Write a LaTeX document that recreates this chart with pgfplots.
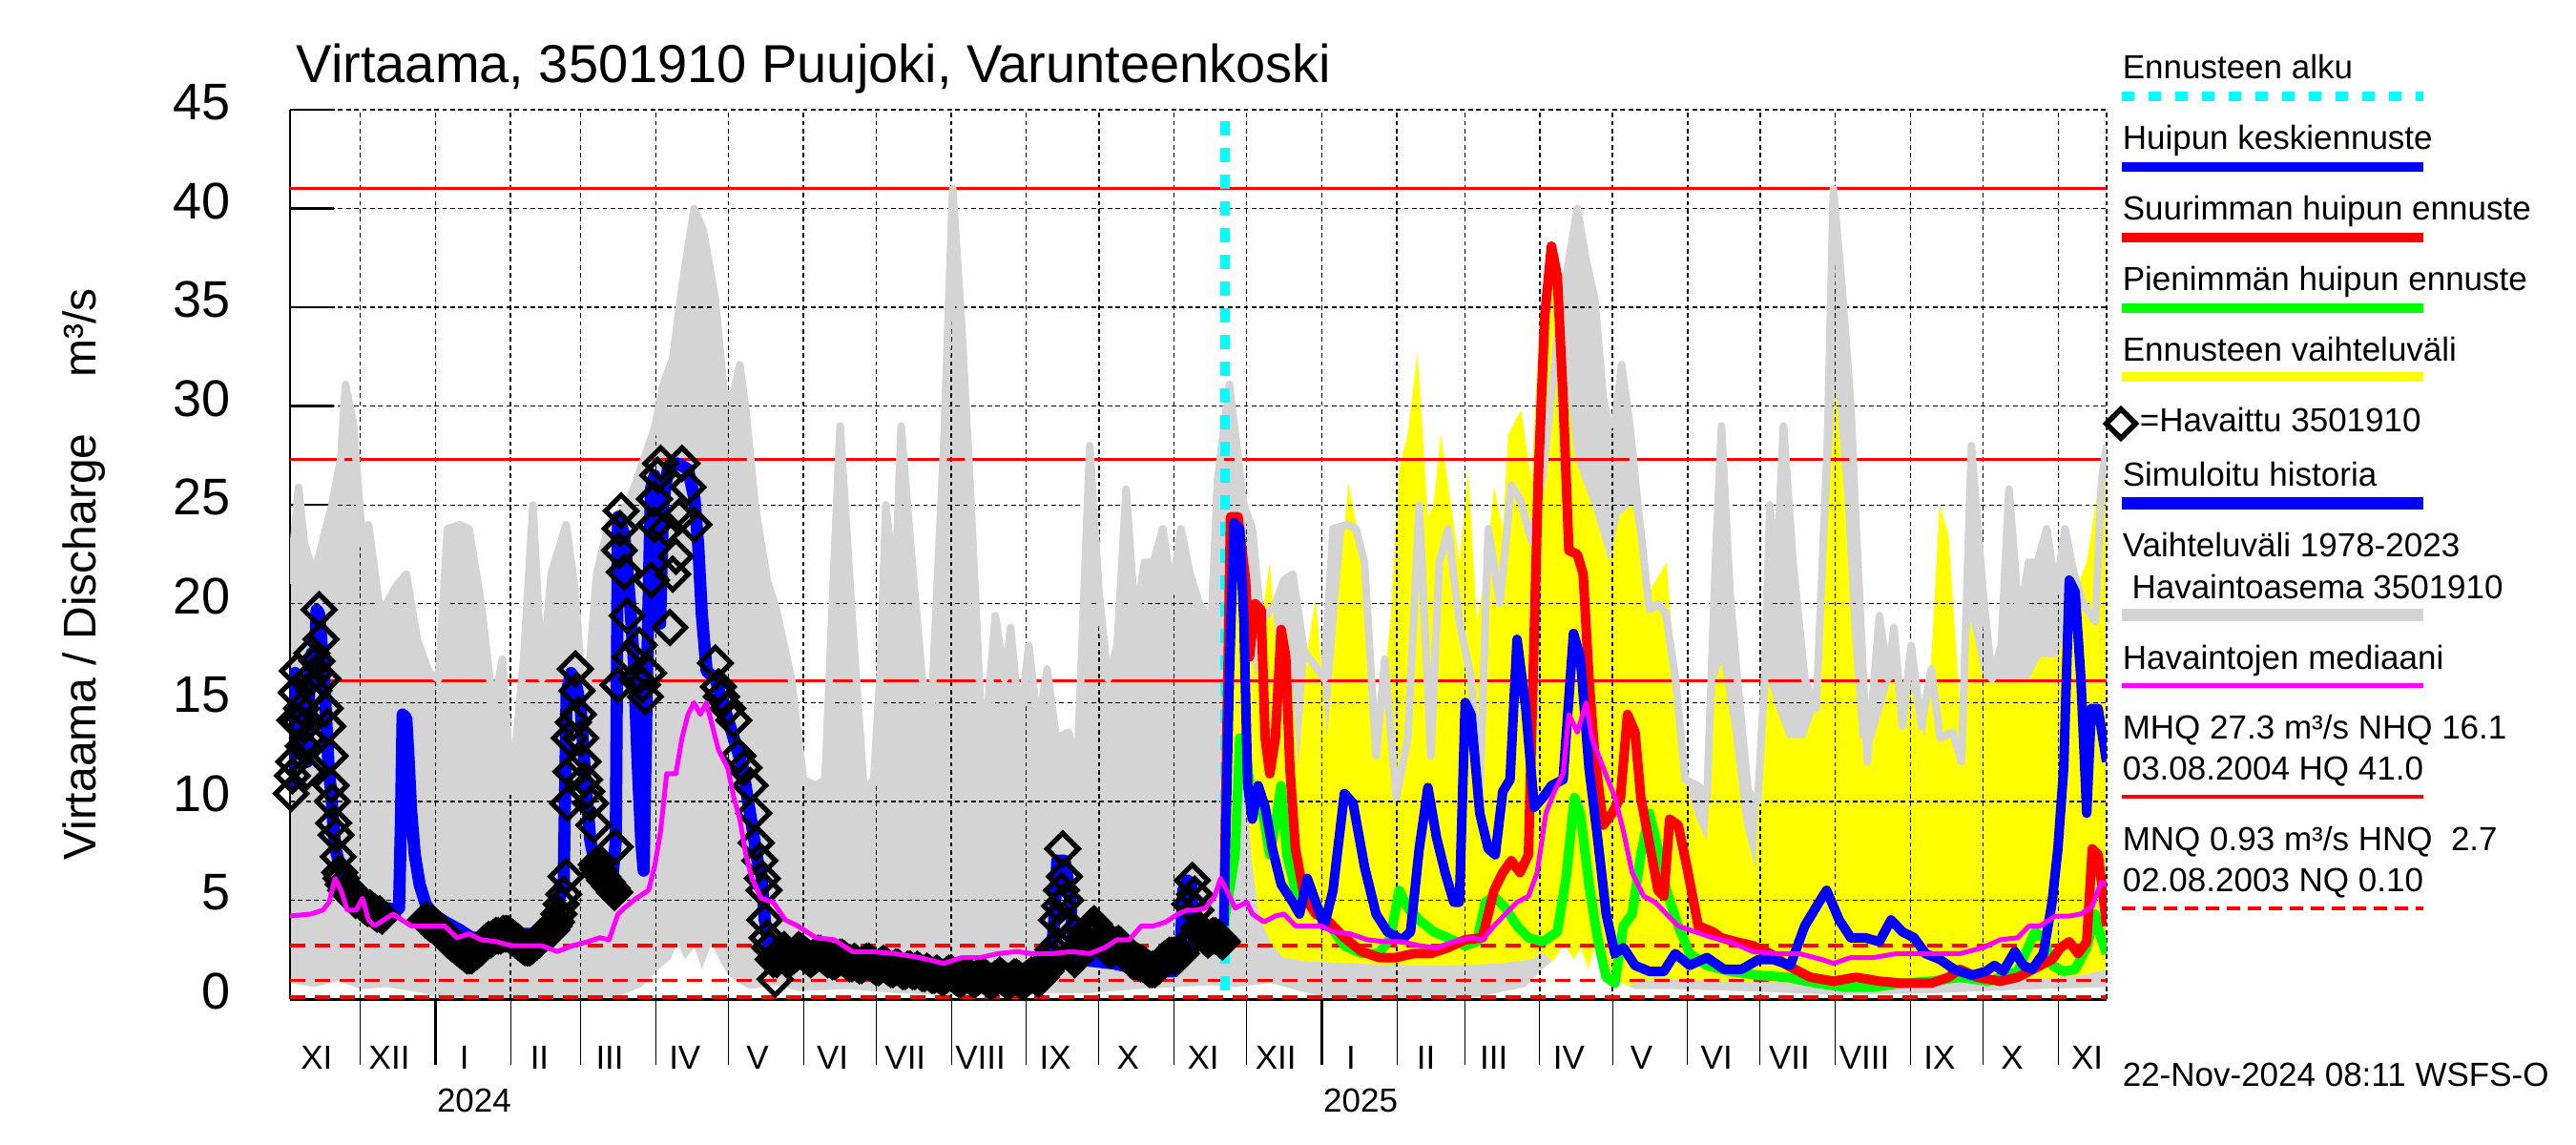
\documentclass[border=0pt]{standalone}
\usepackage{fontspec}
\setmainfont{Liberation Sans}
\usepackage{pgfplots}
\usepackage{pgfplotstable}
\pgfplotsset{compat=1.18}

\definecolor{grayc}{RGB}{212,212,212}
\definecolor{yel}{RGB}{255,255,0}
\definecolor{bl}{RGB}{0,0,255}
\definecolor{rd}{RGB}{255,0,0}
\definecolor{gr}{RGB}{0,255,0}
\definecolor{mg}{RGB}{255,0,255}
\definecolor{cy}{RGB}{0,255,255}

\newcommand\lf{\fontsize{8.75pt}{10pt}\selectfont}
\tikzset{gridline/.style={black, line width=0.35pt, dash pattern=on 1.2pt off 0.9pt}}

% x = days from 1 Jan 2024
\pgfplotstableread{
x y
-60 21
-56.5 25.9
-54 23
-50 21.5
-42.7 25
-39 27.4
-37.1 31.1
-33.9 29.2
-30 23
-27.6 24
-22.6 19.4
-16.3 20.9
-12 21.5
-7.5 18.2
-2.5 16.5
1.3 16.2
5 23.8
10 24
13.9 23.8
18.9 20
23.9 14.7
27.7 17.2
31.5 10.5
36.5 17.3
40.3 25
44 16.2
47.8 21.5
54 24
57.8 20.6
61.6 13.8
66.6 21.5
71.7 24.1
79.2 25
83 26.2
90.5 28.9
94.3 31.2
98 32.4
101.8 36
106.8 40
110.6 38.9
115.6 35.4
119.4 30.4
123.2 30.7
125.7 32.1
128.2 29.8
132 25
137 21.2
140.8 19.7
147 16.2
152 11.1
157 10.8
160.9 11.1
164.6 22
167.1 29
172.2 19.1
177 10.5
181 11.1
183.5 16.2
186 25
189.8 20.6
192.3 29
196 23.3
201 16.2
204.8 14.7
209.9 28
213.6 41
217.4 33.9
221.2 25
226.2 12
231.2 19.4
235 16.2
237.5 18.8
241.3 13.8
245 17.9
248.8 13.8
252.6 16.7
256.3 13.2
261.4 13.5
265.1 12
270.2 28
274 20.6
277.7 16.2
281.5 17.9
285.2 25.8
289 19.1
292.8 22.1
296.5 22.1
300.3 23.8
304.1 20.6
307.8 23.8
311.6 21.5
315.4 20
320.4 19.1
322.9 26.2
327.8 31.1
333.8 25
337.3 23.8
340.9 19.1
346.8 20
350.4 21.2
354 21.5
358.7 17.6
363.5 16.8
367 16.2
370.6 23.8
376.5 24
380.1 23.8
383.6 22.1
388.4 12.3
392 17.2
396.7 10.2
401.5 13.2
406.2 25
411 12.3
414.5 22.1
418.1 23.8
422.8 19.1
427.6 16.2
431.2 10.2
434.7 23.8
439.5 20
444.2 26
447.8 25.3
452.5 23.2
457.3 26.5
464.4 34.8
468 37.4
471.5 40
475.1 37.4
478.7 35.4
482.2 30.4
484.6 29
487 29.2
489.8 32.1
493 29.2
496.5 25
501.2 19.7
505 20
508 19.5
512 16.2
516 11.1
521.4 10.8
525 10.2
528.5 22.1
531 29
534.5 20.6
538 15.6
542 10.5
546 10
548.7 16
551 25
553.5 20.9
556.6 29
560.6 22
565.4 16.2
570.1 14.7
574.7 28
577.2 41
580.8 36
584.4 30
586.2 25
591.2 12
596.2 19.4
599.8 16.2
602.2 18.8
605.7 13.8
609.3 17.9
613.5 13.8
617.6 16.7
621.3 13.2
626.4 13.5
630.1 12
634.2 28
639 20.6
642.7 16.2
646.5 17.9
649.7 25.8
654 19.1
657.8 22.1
661.5 22.1
665.3 23.8
669.1 20.6
672.8 23.8
676.6 21.5
680.4 20
685.4 19.1
687.9 26.2
690 28
}\gmax

\pgfplotstableread{
x y
-60 0.8
-50 0.6
-40 0.9
-31 0.5
-20 0.6
-5 0.3
0 0.1
20 0.05
60 0.05
75 0.1
85 0.6
92 1.5
97 2.0
100 2.8
103 2.0
107 2.6
110 1.5
114 2.8
118 1.8
121 1.2
125 0.8
130 0.5
140 0.7
150 0.4
170 0.5
190 0.3
210 0.2
230 0.2
250 0.3
270 0.3
290 0.5
305 0.6
320 0.7
330 0.6
345 0.8
366 0.1
400 0.05
430 0.1
450 0.6
457 1.5
462 2.0
466 2.8
470 2.0
473 2.6
476 1.5
479 2.8
483 1.8
486 1.2
490 0.8
495 0.5
510 0.5
540 0.4
580 0.2
620 0.3
660 0.5
690 0.6
}\gmin

\pgfplotstableread{
x y
326 3.5
327.5 20
329 24.6
331.4 24.5
333 23.5
335 19.5
338.5 16.2
341 19
344.5 22.1
348 16.2
351.6 18.7
353 17
356.3 11.7
360 17.6
363.5 20.3
368.2 13.2
373 20.6
377 26.1
381.3 23.3
384.8 19.1
389.6 13.2
394.3 19.1
397.9 26.8
401.5 28.6
405.5 32.7
409.8 24.4
412.1 25
415.2 28.6
419.3 25
422.8 22.1
426.4 26.8
430 19.1
433.5 21.5
437.1 25.9
440.7 23.8
443 28.6
448.3 29.8
452.5 26.2
456.1 34.5
460.8 38.3
465.6 33
470.3 27.4
477.5 25
484.6 22.1
489 24.5
494.1 25
501.2 20.6
508.3 22.1
511.9 16.2
517.9 10.2
521 9
525 8
528.5 16
531 17
535 14
540 9
545 6.5
548.7 16.8
553.5 14.7
558.2 13.2
565.4 13.2
570 14.7
574 22
578 31
582 25
585 18
588 13.2
594 13.2
601 16.2
608 16.2
615 13.2
618 18
621 25
624.7 23.5
629.5 14.7
634 19.1
639 16.2
643.7 16.2
650.9 16.2
658 16.2
662.7 17.3
669.9 17.3
677 20.6
681.8 22.1
687.7 26.8
690 27.4
}\yup

\pgfplotstableread{
x y
326 3.0
330 8
334 12
337 7
340 4.2
345 2.8
350 2.1
360 1.9
380 1.8
400 1.7
420 1.7
440 1.8
452 2.0
458 2.3
464 1.5
470 0.9
478 0.6
484 0.4
490 0.6
500 0.9
510 1.0
530 0.9
560 0.8
590 0.8
620 0.8
640 0.9
660 1.0
680 1.2
690 1.5
}\ylo

\pgfplotstableread{
x y
325.5 3.7
327.8 16.2
329.7 24.1
332.1 23.8
333.8 19.1
335.4 10.8
337.3 9.1
339.7 10.8
342.6 9.7
345.6 7.6
349.2 5.8
354 4.9
356.8 4.3
360 6.1
363.5 4.9
367 3.7
370.6 5.5
375.3 10.4
378.9 9.9
383.6 6.7
388.4 4.3
393.1 3.4
399 3.0
402.6 3.4
406.2 7.6
409.8 10.7
413.3 8.2
416.9 6.4
420.5 4.9
422.8 4.9
425.2 15
427.6 14.4
431.2 9.4
434.7 7.6
437.6 7.3
440.7 10.5
443.7 11.1
446.6 18.2
450.2 14.7
453.7 9.7
457.3 10.2
460.8 10.8
465.6 11.1
469.9 18.5
472.7 17.3
476.3 11.7
479.8 8.2
483.4 4.3
487 2.3
490.5 2.6
495.3 1.7
501.2 1.4
507.2 1.4
511.9 2.3
517.9 1.7
525 2.1
532.1 1.5
539.2 1.5
546.4 2.0
552.3 2.0
559.4 1.7
565.4 3.7
571.3 4.9
574.4 5.5
579.6 4.0
584.4 3.1
590.3 3.1
596.2 2.9
601 4.0
605.7 3.4
610.5 3.1
615.2 2.3
621.2 2.0
627.1 1.5
634.2 1.2
640.2 1.4
643.7 1.7
647.3 1.4
652.1 2.4
655.6 1.7
659.2 1.5
663.9 2.3
667.5 4.9
669.9 7.6
672.3 11.7
674.6 21.2
677 20.6
679.4 16.2
681.8 9.4
683.7 14.7
686.5 14.7
690 12
}\fblue

\pgfplotstableread{
x y
325.5 3.7
328.3 24.4
331.4 24.4
334.5 21.2
336.1 17.3
338.5 20
340.9 19.7
342.6 13.2
344.5 11.4
346.8 13.2
349.2 18.7
351.1 17.3
352.8 11.7
355.1 7.6
358.7 5.2
363.5 4.3
368.2 4.0
375.3 3.1
382.5 2.4
389.6 2.1
396.7 2.1
403.8 2.3
411 2.3
418.1 2.6
425.2 3.0
432.3 3.1
437.1 5.5
440.7 6.4
444.2 7.0
447.8 6.4
451.3 7.3
453.2 16.2
455.4 26.5
458 34.5
460.8 38.1
463.2 36.6
465.6 30.4
468 22.7
471.5 22.5
473.9 21.5
476.3 16.2
478.7 12.3
482.2 8.8
485.8 9.4
489.3 10.2
492.2 14.4
495.3 13.5
497.7 10.2
501.2 7.9
504.8 5.5
507.2 5.2
509.6 9.1
513.1 8.8
516.7 6.7
521.4 3.7
527.4 3.4
530.9 3.1
536.9 2.9
544 2.7
551.1 2.3
558.2 1.7
567.7 1.1
577.2 0.9
586.7 1.1
596.2 0.9
605.7 0.8
617.6 0.8
624.7 1.1
629.5 1.5
636.6 1.1
646.1 0.9
653.3 1.1
662.7 1.7
667.5 2.0
671 2.6
674.6 2.9
678.2 2.3
681.8 2.9
684.1 7.6
686.5 7.3
688.9 4.9
690 3.7
}\fred

\pgfplotstableread{
x y
325.5 3.7
330.2 7.3
332.1 13.2
335 12.3
337.3 9.4
339.7 10.2
342.1 9.1
344.5 7.3
346.8 8.8
349.2 10.8
351.6 7.3
355.1 5.5
359.9 4.9
364.6 4.6
369.4 3.7
375.3 2.7
382.5 2.3
389.6 2.3
394.3 3.1
397.9 5.5
401.5 4.6
406.2 4.0
412.2 3.4
418.1 3.1
425.2 2.7
430 2.9
433.5 4.9
437.1 5.2
441.8 4.6
446.6 3.7
451.3 3.1
457.3 2.9
463.2 3.4
466.8 6.1
470.3 10.2
472.7 9.4
476.3 5.8
479.8 3.1
483.4 1.1
487 0.8
490.5 3.7
494.1 4.3
497.7 7.3
501.2 9.4
504.8 7.6
508.3 5.5
513.1 3.7
517.9 2.3
525 1.7
534.5 1.4
546.4 1.2
558.2 1.1
570.1 0.8
582 0.6
593.9 0.6
605.7 0.8
617.6 0.9
629.5 1.1
641.4 0.9
653.3 1.4
660.4 3.4
663.9 3.1
667.5 1.7
672.3 1.4
677 1.5
681.8 2.6
685.3 4.3
687.7 3.1
690 2.3
}\fgreen

\pgfplotstableread{
x y
-60.2 4.2
-51.4 4.3
-46.4 4.5
-43.9 4.9
-41.4 6.1
-38.9 5.5
-36.4 4.5
-32.6 4.5
-30.1 5.1
-27.6 4.0
-25.1 3.7
-21.3 4.0
-17.5 4.3
-13.8 4.0
-10 3.7
-6.2 3.7
-1.2 3.7
3.8 3.7
8.9 3.1
13.9 3.3
18.9 3.0
25.2 2.9
31.5 2.7
37.7 2.7
44 2.7
50.3 2.4
56.6 2.7
62.9 2.9
67.9 3.1
71.7 3.0
75.4 4.3
77.9 4.6
83 5.1
88 5.5
90.5 6.7
93 8.5
95.5 11.4
99.3 11.4
101.8 13.2
104.3 14.4
106.8 15
109.4 14.4
111.9 15
114.4 13.8
116.9 12.6
120.7 11.7
123.2 10.2
125.7 9.1
128.2 7.3
130.7 6.1
134.5 5.1
139.5 4.9
144.5 4.0
149.6 3.7
157.1 3.1
164.6 3.0
172.2 2.4
179.7 2.4
189.8 2.3
199.8 2.1
209.9 1.8
217.4 2.1
225 2.1
232.5 2.3
240 2.4
246.3 2.3
255.1 2.3
262.6 2.4
270.2 2.3
276.4 2.6
281.5 3.0
286.5 3.0
291.5 3.7
296.5 3.7
301.6 3.9
306.6 4.3
310.4 4.5
314.1 4.5
317.9 4.6
321.7 5.2
324.2 6.1
326.7 5.5
330.2 4.6
335 4.9
337.3 4.3
342.1 3.9
346.8 4.2
350.4 4.3
355.1 3.7
361.1 3.7
365.8 3.7
370.6 3.4
377.7 3.3
384.8 3.0
392 2.9
399.1 2.9
406.2 2.7
413.3 2.6
420.5 2.9
427.6 3.1
432.3 3.0
437.1 3.7
441.8 4.3
446.6 4.9
451.3 5.2
454.9 6.4
458.5 9.4
462 10.5
465.6 11.4
468 14.4
471.5 13.5
475.1 15
477.5 13.2
482.2 11.7
487 10.2
490.5 8.5
494.1 6.4
498.9 5.2
503.6 4.9
508.3 4.3
513.1 3.7
520.2 3.4
527.4 3.1
534.5 2.9
544 2.4
553.5 2.3
563 2.3
572.5 2.0
577.2 1.8
584.4 2.1
593.9 2.1
603.4 2.3
610.5 2.3
620 2.3
629.5 2.3
639 2.6
646.1 3.0
653.3 3.1
658 3.7
662.7 3.7
668.7 4.2
674.6 4.2
679.4 4.3
684.1 4.7
687.7 5.9
690 5.8
}\med

\pgfplotstableread{
x y
-60 10.5
-59 14.5
-58 16.5
-57 13.5
-56 15
-55 12.5
-54 14.5
-53 12
-52 16
-51 17.5
-50 16
-49 19.7
-48 19.5
-47 18
-46 16.5
-45 14
-44 11.5
-43 10.5
-42 8.5
-41 7.5
-40 7
-38.9 6.4
-36 5.8
-33 5.4
-30 5.1
-27 4.9
-24 4.7
-20 4.6
-16 4.5
-15 4.6
-14.2 9
-13.5 14.4
-12 14.2
-11 12
-10 9.5
-8.5 7.3
-6.5 5.8
-4 4.8
-1 4.3
4 3.9
10 3.5
15 3.1
20 3.1
30 3.3
40 3.3
46 3.7
50 4.5
53 6.0
54.2 15.5
56 16.5
58 16
60 14.7
62 11
64 8
66 6.8
70 6.2
73 6.0
74.5 8
75.4 24.4
78 23.5
80.4 20
82 17
83.5 12
85 8
86 6.5
87.2 15.3
89 25.8
90.5 26.5
91.8 20.5
92.8 19
94 25
96 26.8
100 27.1
104.3 26.8
107 25.3
108.5 23
110 19.5
112 16.6
115.6 16.2
119.4 14.7
123.2 13.2
126.9 11.7
130.7 8.8
133 7
134.5 6.4
136 4
137.5 2.8
139.5 2.4
150 2.3
170 2.0
190 1.6
210 1.2
230 1.0
245 1.1
254 1.3
255.5 4.0
256.8 7.0
259.8 7.0
261.8 5.5
263.5 2.5
266 2.0
280 1.8
295 1.4
305 1.4
307.5 2.0
308.8 5.5
310.5 6.0
312 5.8
313.2 3.0
315 2.8
320 2.9
326 3.0
}\simh

\pgfplotstableread{
x y
-59.5 10.4
-59 11.3
-58.5 12.0
-58 14.1
-57.5 15.5
-57 16.6
-56 14.0
-55.2 14.7
-54.5 12.8
-54 13.8
-53 11.5
-52.7 13.2
-52 16.2
-51 17.5
-50.2 15.6
-49.5 16.5
-48.9 17.1
-48 19.7
-47.2 18.2
-46.4 16.2
-45.5 14.7
-44.4 13.8
-43.4 12.3
-43 10.8
-42.5 10.0
-42 8.9
-41 8.3
-40.1 7.2
-39.5 6.4
-38.9 6.1
-38 5.8
-37 5.5
-36 5.6
-35 5.3
-34 5.2
-33 5.0
-32 5.1
-31 4.9
-30 4.8
-29 4.7
-28 4.6
-27 4.6
-26 4.5
-25 4.4
-24 4.3
-23 4.3
-22 4.2
-4 4.0
-3 3.9
-2 3.8
-1 3.8
0 3.7
1 3.5
2 3.4
3 3.3
4 3.2
5 3.0
6 2.9
7 2.8
8 2.7
9 2.6
10 2.5
11 2.4
12 2.3
13 2.2
14 2.2
15 2.2
16 2.3
17 2.4
18 2.5
19 2.6
20 2.8
21 2.9
22 3.0
23 3.0
24 3.1
25 3.2
26 3.2
27 3.2
28 3.3
29 3.3
30 3.3
31 3.2
32 3.1
33 3.0
34 2.9
35 2.8
36 2.7
37 2.6
38 2.6
39 2.6
40 2.7
41 2.8
42 2.9
43 3.0
44 3.2
45 3.3
46 3.4
47 3.4
48 3.5
49 3.7
50 3.9
51 4.3
52 4.8
53 5.3
54 6.2
54.6 9.9
55.3 13.2
56 11.5
57 14.0
57.8 16.7
58.5 15.6
59.1 14.4
60 13.2
61 12.0
61.6 11.1
62.5 10.5
64.1 9.9
65.4 8.8
66.5 6.8
67 6.6
68 6.4
69 6.2
70 6.0
71 5.9
72 5.7
73 5.6
74 5.4
74.2 7.7
75.4 15.9
76 22.7
76.2 23.8
76.7 24.7
78 21.6
79.2 19.4
80.4 17.3
83 16.2
84.2 17.9
85.5 15.9
86.7 15.3
88 16.5
89.2 21.2
90.5 24
90.5 25.3
91.8 26.5
93 27.1
95.5 23.8
96.8 18.8
98 21.5
99.3 22.4
100.6 24.4
101.8 27.1
104.3 25.9
106.8 24
115.6 17.0
116.9 15.8
118.1 15.3
120.7 14.7
123.2 14.1
125 12.3
127.4 11.7
130 10.8
131.5 9.4
132.5 7.9
134 7.0
135 6.1
135.7 5.5
136 4.0
137 3.1
138 2.6
139.5 2.0
140.3 1.0
141 2.0
142 2.2
143 2.4
144 2.5
145 2.3
146 2.2
147 2.1
148 2.2
149 2.3
150 2.5
151 2.4
152 2.3
153 2.2
154 2.1
155 2.0
156 2.1
157 2.2
158 2.3
159 2.3
160 2.2
161 2.1
162 2.0
163 2.0
164 1.9
165 1.9
166 2.0
167 2.1
168 2.1
169 2.0
170 1.9
171 1.8
172 1.8
173 1.9
174 1.8
175 1.7
176 1.7
177 1.8
178 1.9
179 1.9
180 1.8
181 1.7
182 1.6
183 1.6
184 1.7
185 1.8
186 1.7
187 1.6
188 1.5
189 1.5
190 1.6
191 1.6
192 1.5
193 1.4
194 1.4
195 1.5
196 1.5
197 1.4
198 1.4
199 1.5
200 1.4
201 1.3
202 1.3
203 1.4
204 1.3
205 1.2
206 1.2
207 1.3
208 1.2
209 1.1
210 1.1
211 1.2
212 1.3
213 1.3
214 1.2
215 1.1
216 1.0
217 1.0
218 1.1
219 1.2
220 1.2
221 1.1
222 1.0
223 1.0
224 1.1
225 1.2
226 1.2
227 1.1
228 1.0
229 0.9
230 0.9
231 1.0
232 1.1
233 1.2
234 1.1
235 1.0
236 0.9
237 0.9
238 1.0
239 1.1
240 1.1
241 1.0
242 0.9
243 0.9
244 1.0
245 1.1
246 1.2
247 1.2
248 1.1
249 1.0
250 1.1
251 1.3
252 1.4
253 1.6
254 2.0
255 2.5
256.5 4.0
257.7 4.7
258.5 5.5
259 7.6
259.7 6.2
260.2 5.0
260.7 3.8
261.6 2.8
263 2.3
264 2.0
265 2.2
266 2.4
267 2.7
268 3.0
269 3.3
270 3.5
271 3.7
272 3.8
273 3.6
274 3.4
275 3.1
276 2.9
277 2.7
278 2.5
279 2.5
280 2.6
281 2.7
282 2.8
283 2.7
284 2.5
285 2.3
286 2.2
287 2.0
288 1.9
289 1.9
290 1.9
291 1.8
292 1.8
293 1.7
294 1.6
295 1.5
296 1.5
297 1.5
298 1.6
299 1.7
300 1.9
301 2.0
302 2.1
303 2.2
304 2.2
305 2.2
306 2.1
307 2.2
308 2.3
309 2.6
311.5 4.8
312.5 6.0
313.5 5.3
314 4.5
315 3.6
316 3.4
317 3.3
318 3.1
319 3.0
320 3.1
321 3.2
322 3.2
323.4 3.1
324 3.0
325 2.9
}\obs

\begin{document}
\begin{tikzpicture}
\begin{axis}[
    at={(76pt,38.25pt)}, anchor=south west,
    scale only axis, width=476pt, height=233pt,
    xmin=-60, xmax=690, ymin=0, ymax=45,
    clip mode=individual,
    axis x line*=bottom, axis y line*=left,
    axis line style={-},
    x axis line style={line width=0.75pt},
    y axis line style={line width=0.7pt},
    xtick={-31,0,31,60,91,121,152,182,213,244,274,305,335,366,397,425,456,486,517,547,578,609,639,670},
    xticklabels={},
    xtick align=outside,
    major tick length=17.25pt,
    x tick style={black, line width=0.25pt},
    extra x ticks={-49,-19,12,43,72,103,133,164,194,225,256,286,317,347,378,409,437,468,498,529,559,590,621,651,682},
    extra x tick labels={XI,XII,I,II,III,IV,V,VI,VII,VIII,IX,X,XI,XII,I,II,III,IV,V,VI,VII,VIII,IX,X,XI},
    extra x tick style={major tick length=0pt},
    xticklabel style={font=\lf, anchor=base, yshift=-18.25pt},
    ytick={0,5,...,45},
    y tick style={draw=none},
    yticklabel style={font=\fontsize{13.5pt}{13.5pt}\selectfont, xshift=-12pt, yshift=2pt},
    /pgf/number format/assume math mode=true,
]
% ranges
\addplot[draw=none, fill=grayc] table {\gmax} \closedcycle;
\addplot[draw=none, fill=yel] table {\yup} \closedcycle;
\addplot[draw=none, fill=grayc] table {\ylo} \closedcycle;
\addplot[draw=none, fill=white] table {\gmin} \closedcycle;

% grid, y tick marks and axis lines over the ranges
\pgfplotsinvokeforeach{5,10,...,45}{\draw[gridline] (axis cs:-60,#1) -- (axis cs:690,#1);}
\pgfplotsinvokeforeach{-31,0,31,60,91,121,152,182,213,244,274,305,335,366,397,425,456,486,517,547,578,609,639,670,690}{\draw[gridline] (axis cs:#1,0) -- (axis cs:#1,45);}
\pgfplotsinvokeforeach{25,30,35,40,45}{\draw[black, line width=0.6pt] (axis cs:-60,#1) -- ([xshift=11.5pt]axis cs:-60,#1);}
\draw[black, line width=0.7pt] (axis cs:-60,0) -- (axis cs:-60,45);
\draw[black, line width=0.75pt] (axis cs:-60,0) -- (axis cs:690,0);

% reference levels
\addplot[rd, line width=0.8pt] coordinates {(-60,41.0) (690,41.0)};
\addplot[rd, line width=0.8pt] coordinates {(-60,27.3) (690,27.3)};
\addplot[rd, line width=0.8pt] coordinates {(-60,16.1) (690,16.1)};
\addplot[rd, line width=0.8pt, dash pattern=on 4pt off 2.5pt] coordinates {(-60,2.7) (690,2.7)};
\addplot[rd, line width=0.8pt, dash pattern=on 4pt off 2.5pt] coordinates {(-60,0.93) (690,0.93)};
\addplot[rd, line width=0.8pt, dash pattern=on 4pt off 2.5pt] coordinates {(-60,0.10) (690,0.10)};

% upper edge of the historical range
\addplot[grayc, line width=2pt, line join=round] table {\gmax};

% forecast start
\addplot[cy, line width=2.3pt, dash pattern=on 3.75pt off 3.25pt] coordinates {(326,44.4) (326,0)};

% forecasts
\addplot[gr, line width=2.5pt, line join=round] table {\fgreen};
\addplot[rd, line width=2.5pt, line join=round] table {\fred};
\addplot[bl, line width=2.5pt, line join=round] table {\fblue};

% simulated history and observations
\addplot[bl, line width=3.2pt, line join=round] table {\simh};
\addplot[only marks, mark=square, mark size=2.9pt,
    mark options={rotate=45, draw=black, line width=1.3pt, fill=none}] table {\obs};

% median
\addplot[mg, line width=1.25pt, line join=round] table {\med};

\coordinate (j24) at (axis cs:0,0);
\coordinate (j25) at (axis cs:366,0);
\coordinate (y24) at (axis cs:16,0);
\coordinate (y25) at (axis cs:382,0);
\end{axis}

\draw[black, line width=0.8pt] (j24) -- ++(0,-17.25pt);
\draw[black, line width=0.8pt] (j25) -- ++(0,-17.25pt);
\node[anchor=base, inner sep=0, font=\lf] at ([yshift=-29.5pt]y24) {2024};
\node[anchor=base, inner sep=0, font=\lf] at ([yshift=-29.5pt]y25) {2025};

% title and axis label
\node[anchor=base west, inner sep=0, font=\fontsize{14pt}{14pt}\selectfont] at (77.5pt,278.25pt)
    {Virtaama, 3501910 Puujoki, Varunteenkoski};
\node[rotate=90, anchor=base, inner sep=0, font=\fontsize{12pt}{12pt}\selectfont] at (25pt,149.5pt)
    {Virtaama / Discharge\hspace{14.75pt}m³/s};

% legend
\begin{scope}[every node/.style={anchor=base west, inner sep=0, font=\lf}]
\node at (556pt,279.25pt) {Ennusteen alku};
\draw[cy, line width=2.5pt, dash pattern=on 3.15pt off 3.85pt] (556pt,274.75pt) -- (635pt,274.75pt);
\node at (556pt,260.75pt) {Huipun keskiennuste};
\draw[bl, line width=2.5pt] (556pt,256.25pt) -- (635pt,256.25pt);
\node at (556pt,242.25pt) {Suurimman huipun ennuste};
\draw[rd, line width=2.5pt] (556pt,237.75pt) -- (635pt,237.75pt);
\node at (556pt,223.75pt) {Pienimmän huipun ennuste};
\draw[gr, line width=2.5pt] (556pt,219.25pt) -- (635pt,219.25pt);
\node at (556pt,205.25pt) {Ennusteen vaihteluväli};
\draw[yel, line width=2.5pt] (556pt,201.25pt) -- (635pt,201.25pt);
\draw[black, line width=1.4pt] (551.9pt,189pt) -- (555.75pt,192.8pt) -- (559.6pt,189pt) -- (555.75pt,185.2pt) -- cycle;
\node at (560.5pt,186.75pt) {=Havaittu 3501910};
\node at (556pt,172.5pt) {Simuloitu historia};
\draw[bl, line width=3.25pt] (556pt,168pt) -- (635pt,168pt);
\node at (556pt,154pt) {Vaihteluväli 1978-2023};
\node at (556pt,143pt) {\ Havaintoasema 3501910};
\draw[grayc, line width=3.25pt] (556pt,138.75pt) -- (635pt,138.75pt);
\node at (556pt,124.5pt) {Havaintojen mediaani};
\draw[mg, line width=1.25pt] (556pt,120.25pt) -- (635pt,120.25pt);
\node at (556pt,106.25pt) {MHQ 27.3 m³/s NHQ 16.1};
\node at (556pt,95.5pt) {03.08.2004 HQ 41.0};
\draw[rd, line width=0.8pt] (556pt,91.25pt) -- (635pt,91.25pt);
\node at (556pt,77pt) {MNQ 0.93 m³/s HNQ\ \ 2.7};
\node at (556pt,66.25pt) {02.08.2003 NQ 0.10};
\draw[rd, line width=0.8pt, dash pattern=on 3.5pt off 2pt] (556pt,62pt) -- (635pt,62pt);
\node at (556pt,15.5pt) {22-Nov-2024 08:11 WSFS-O};
\end{scope}

\pgfresetboundingbox
\useasboundingbox (0,0) rectangle (675pt,300pt);
\end{tikzpicture}
\end{document}
